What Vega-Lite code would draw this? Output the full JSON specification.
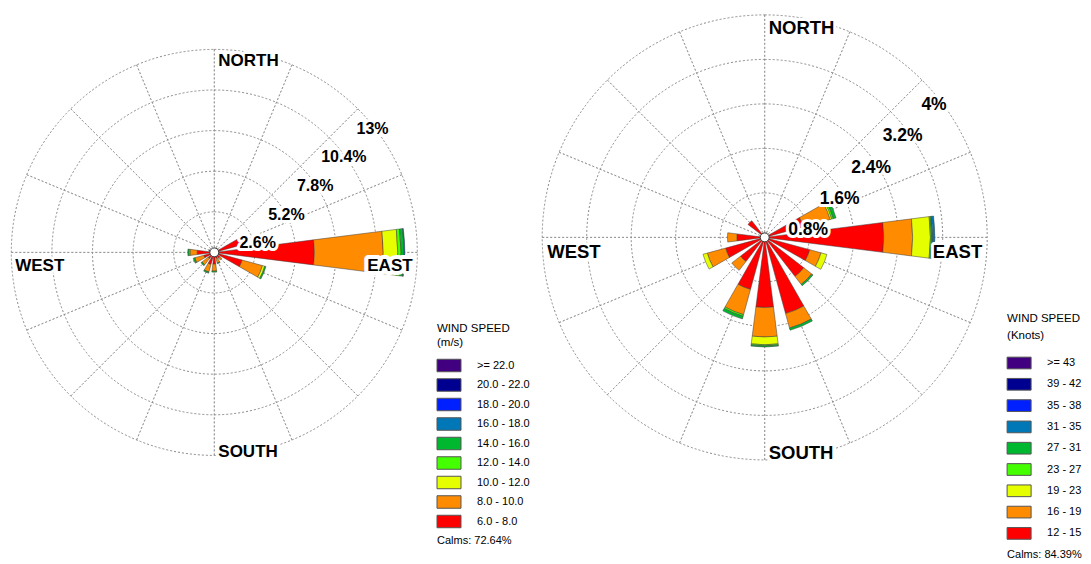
{
  "$schema": "https://vega.github.io/schema/vega-lite/v6.json",
  "padding": 0,
  "bounds": "flush",
  "spacing": 110.7,
  "background": "white",
  "config": {"view": {"stroke": null}, "font": "Liberation Sans"},
  "resolve": {
    "scale": {"color": "independent", "theta": "independent", "radius": "independent"},
    "legend": {"color": "independent"}
  },
  "hconcat": [
    {
      "width": 428.6,
      "height": 504.8,
      "layer": [
        {
          "data": {"values": [{"ring": 2.6}, {"ring": 5.2}, {"ring": 7.8}, {"ring": 10.4}, {"ring": 13}]},
          "mark": {"type": "arc", "filled": false, "stroke": "#8a8a8a", "strokeWidth": 1, "strokeDash": [2, 2]},
          "encoding": {
            "theta": {"datum": 0, "type": "quantitative", "scale": {"type": "linear", "domain": [0, 360], "range": [0, 6.283185307179586], "zero": false, "nice": false}},
            "theta2": {"datum": 360},
            "radius": {"field": "ring", "type": "quantitative", "stack": null, "scale": {"type": "linear", "domain": [0, 13], "range": [0, 203], "nice": false}}
          }
        },
        {
          "data": {"values": [{"dir": 0}, {"dir": 22.5}, {"dir": 45}, {"dir": 67.5}, {"dir": 90}, {"dir": 112.5}, {"dir": 135}, {"dir": 157.5}, {"dir": 180}, {"dir": 202.5}, {"dir": 225}, {"dir": 247.5}, {"dir": 270}, {"dir": 292.5}, {"dir": 315}, {"dir": 337.5}]},
          "mark": {"type": "arc", "filled": false, "stroke": "#8a8a8a", "strokeOpacity": 0.7, "strokeWidth": 1, "strokeDash": [2, 2]},
          "encoding": {
            "theta": {"field": "dir", "type": "quantitative", "stack": null, "scale": {"type": "linear", "domain": [0, 360], "range": [0, 6.283185307179586], "zero": false, "nice": false}},
            "theta2": {"field": "dir"},
            "radius": {"datum": 13, "type": "quantitative", "scale": {"type": "linear", "domain": [0, 13], "range": [0, 203], "nice": false}}
          }
        },
        {
          "data": {"values": [
            {"dir": 90, "bin": "6.0 - 8.0", "lo": 6, "pct": 6.41},
            {"dir": 90, "bin": "8.0 - 10.0", "lo": 8, "pct": 4.41},
            {"dir": 90, "bin": "10.0 - 12.0", "lo": 10, "pct": 0.93},
            {"dir": 90, "bin": "12.0 - 14.0", "lo": 12, "pct": 0.21},
            {"dir": 90, "bin": "14.0 - 16.0", "lo": 14, "pct": 0.19},
            {"dir": 90, "bin": "16.0 - 18.0", "lo": 16, "pct": 0.05},
            {"dir": 67.5, "bin": "6.0 - 8.0", "lo": 6, "pct": 2.05},
            {"dir": 45, "bin": "6.0 - 8.0", "lo": 6, "pct": 0.3},
            {"dir": 112.5, "bin": "6.0 - 8.0", "lo": 6, "pct": 1.85},
            {"dir": 112.5, "bin": "8.0 - 10.0", "lo": 8, "pct": 1.35},
            {"dir": 112.5, "bin": "10.0 - 12.0", "lo": 10, "pct": 0.15},
            {"dir": 112.5, "bin": "14.0 - 16.0", "lo": 14, "pct": 0.08},
            {"dir": 135, "bin": "6.0 - 8.0", "lo": 6, "pct": 0.45},
            {"dir": 135, "bin": "8.0 - 10.0", "lo": 8, "pct": 0.15},
            {"dir": 157.5, "bin": "6.0 - 8.0", "lo": 6, "pct": 0.4},
            {"dir": 157.5, "bin": "8.0 - 10.0", "lo": 8, "pct": 0.3},
            {"dir": 157.5, "bin": "14.0 - 16.0", "lo": 14, "pct": 0.05},
            {"dir": 180, "bin": "6.0 - 8.0", "lo": 6, "pct": 0.75},
            {"dir": 180, "bin": "8.0 - 10.0", "lo": 8, "pct": 0.45},
            {"dir": 180, "bin": "14.0 - 16.0", "lo": 14, "pct": 0.07},
            {"dir": 202.5, "bin": "6.0 - 8.0", "lo": 6, "pct": 0.8},
            {"dir": 202.5, "bin": "8.0 - 10.0", "lo": 8, "pct": 0.5},
            {"dir": 202.5, "bin": "14.0 - 16.0", "lo": 14, "pct": 0.08},
            {"dir": 225, "bin": "6.0 - 8.0", "lo": 6, "pct": 0.5},
            {"dir": 225, "bin": "8.0 - 10.0", "lo": 8, "pct": 0.5},
            {"dir": 225, "bin": "14.0 - 16.0", "lo": 14, "pct": 0.08},
            {"dir": 247.5, "bin": "6.0 - 8.0", "lo": 6, "pct": 0.7},
            {"dir": 247.5, "bin": "8.0 - 10.0", "lo": 8, "pct": 0.6},
            {"dir": 247.5, "bin": "14.0 - 16.0", "lo": 14, "pct": 0.1},
            {"dir": 270, "bin": "6.0 - 8.0", "lo": 6, "pct": 1.1},
            {"dir": 270, "bin": "8.0 - 10.0", "lo": 8, "pct": 0.45},
            {"dir": 270, "bin": "10.0 - 12.0", "lo": 10, "pct": 0.07},
            {"dir": 270, "bin": "14.0 - 16.0", "lo": 14, "pct": 0.08},
            {"dir": 292.5, "bin": "6.0 - 8.0", "lo": 6, "pct": 0.35}
          ]},
          "transform": [{"stack": "pct", "groupby": ["dir"], "sort": [{"field": "lo", "order": "ascending"}], "as": ["r0", "r1"]}],
          "mark": {"type": "arc", "thetaOffset": -0.1257, "theta2Offset": 0.1257, "stroke": "#3c3c3c", "strokeWidth": 0.5},
          "encoding": {
            "theta": {"field": "dir", "type": "quantitative", "stack": null, "scale": {"type": "linear", "domain": [0, 360], "range": [0, 6.283185307179586], "zero": false, "nice": false}},
            "theta2": {"field": "dir"},
            "radius": {"field": "r1", "type": "quantitative", "stack": null, "scale": {"type": "linear", "domain": [0, 13], "range": [0, 203], "nice": false}},
            "radius2": {"field": "r0"},
            "color": {
              "field": "bin",
              "type": "nominal",
              "scale": {
                "domain": [">= 22.0", "20.0 - 22.0", "18.0 - 20.0", "16.0 - 18.0", "14.0 - 16.0", "12.0 - 14.0", "10.0 - 12.0", "8.0 - 10.0", "6.0 - 8.0", "Calms: 72.64%"],
                "range": ["#400080", "#000090", "#0020ff", "#0078b8", "#00b830", "#44ff00", "#e6ff00", "#ff8c00", "#ff0000", "#ffffff"]
              },
              "legend": {
                "orient": "none",
                "legendX": 437,
                "legendY": 323,
                "direction": "vertical",
                "title": ["WIND SPEED", "(m/s)"],
                "titleFont": "Liberation Sans",
                "titleFontSize": 11.5,
                "titleFontWeight": "normal",
                "titleColor": "black",
                "titleLineHeight": 14,
                "titlePadding": 10,
                "labelFont": "Liberation Sans",
                "labelFontSize": 11,
                "labelColor": "black",
                "labelOffset": 21,
                "symbolType": "M-1.846,-0.96H1.846V0.96H-1.846Z",
                "symbolSize": 169,
                "symbolOffset": 5,
                "symbolStrokeWidth": 1,
                "symbolStrokeColor": "#555555",
                "symbolOpacity": 1,
                "rowPadding": 1.5,
                "padding": 0,
                "encode": {
                  "symbols": {"update": {"stroke": {"signal": "datum.value === 'Calms: 72.64%' ? 'transparent' : '#555555'"}}},
                  "labels": {"update": {"dx": {"signal": "datum.value === 'Calms: 72.64%' ? -40 : 0"}}}
                }
              }
            }
          }
        },
        {
          "data": {"values": [{"calm": 72.64}]},
          "mark": {"type": "point", "filled": true, "fill": "white", "stroke": "#333333", "strokeWidth": 1, "size": 80, "opacity": 1},
          "encoding": {}
        },
        {
          "data": {"values": [{"ring": 2.6, "label": "2.6%"}, {"ring": 5.2, "label": "5.2%"}, {"ring": 7.8, "label": "7.8%"}, {"ring": 10.4, "label": "10.4%"}, {"ring": 13, "label": "13%"}]},
          "encoding": {
            "theta": {"datum": 45, "type": "quantitative", "scale": {"type": "linear", "domain": [0, 360], "range": [0, 6.283185307179586], "zero": false, "nice": false}},
            "radius": {"field": "ring", "type": "quantitative", "stack": null, "scale": {"type": "linear", "domain": [0, 13], "range": [0, 203], "nice": false}},
            "text": {"field": "label"}
          },
          "layer": [
            {"mark": {"type": "text", "dx": 14.7, "dy": 19.7, "fontSize": 16, "fontWeight": "bold", "font": "Liberation Sans", "fill": "white", "stroke": "white", "strokeWidth": 6, "strokeJoin": "round"}},
            {"mark": {"type": "text", "dx": 14.7, "dy": 19.7, "fontSize": 16, "fontWeight": "bold", "font": "Liberation Sans", "fill": "black"}}
          ]
        },
        {
          "data": {"values": [{"dir": 0, "label": "NORTH"}, {"dir": 180, "label": "SOUTH"}]},
          "encoding": {
            "theta": {"field": "dir", "type": "quantitative", "stack": null, "scale": {"type": "linear", "domain": [0, 360], "range": [0, 6.283185307179586], "zero": false, "nice": false}},
            "radius": {"datum": 12.5, "type": "quantitative", "scale": {"type": "linear", "domain": [0, 13], "range": [0, 203], "nice": false}},
            "text": {"field": "label"}
          },
          "layer": [
            {"mark": {"type": "text", "align": "left", "baseline": "middle", "dx": 4, "dy": 4, "fontSize": 17, "fontWeight": "bold", "font": "Liberation Sans", "fill": "white", "stroke": "white", "strokeWidth": 6, "strokeJoin": "round"}},
            {"mark": {"type": "text", "align": "left", "baseline": "middle", "dx": 4, "dy": 4, "fontSize": 17, "fontWeight": "bold", "font": "Liberation Sans", "fill": "black"}}
          ]
        },
        {
          "data": {"values": [{"dir": 270, "label": "WEST"}]},
          "encoding": {
            "theta": {"field": "dir", "type": "quantitative", "stack": null, "scale": {"type": "linear", "domain": [0, 360], "range": [0, 6.283185307179586], "zero": false, "nice": false}},
            "radius": {"datum": 12.75, "type": "quantitative", "scale": {"type": "linear", "domain": [0, 13], "range": [0, 203], "nice": false}},
            "text": {"field": "label"}
          },
          "layer": [
            {"mark": {"type": "text", "align": "left", "baseline": "middle", "dy": 14, "fontSize": 17, "fontWeight": "bold", "font": "Liberation Sans", "fill": "white", "stroke": "white", "strokeWidth": 6, "strokeJoin": "round"}},
            {"mark": {"type": "text", "align": "left", "baseline": "middle", "dy": 14, "fontSize": 17, "fontWeight": "bold", "font": "Liberation Sans", "fill": "black"}}
          ]
        },
        {
          "data": {"values": [{"dir": 90, "label": "EAST"}]},
          "encoding": {
            "theta": {"field": "dir", "type": "quantitative", "stack": null, "scale": {"type": "linear", "domain": [0, 360], "range": [0, 6.283185307179586], "zero": false, "nice": false}},
            "radius": {"datum": 12.7, "type": "quantitative", "scale": {"type": "linear", "domain": [0, 13], "range": [0, 203], "nice": false}},
            "text": {"field": "label"}
          },
          "layer": [
            {"mark": {"type": "text", "align": "right", "baseline": "middle", "dy": 14, "fontSize": 17, "fontWeight": "bold", "font": "Liberation Sans", "fill": "white", "stroke": "white", "strokeWidth": 8, "strokeJoin": "round"}},
            {"mark": {"type": "text", "align": "right", "baseline": "middle", "dy": 14, "fontSize": 17, "fontWeight": "bold", "font": "Liberation Sans", "fill": "black"}}
          ]
        }
      ]
    },
    {
      "width": 450,
      "height": 474.8,
      "layer": [
        {
          "data": {"values": [{"ring": 0.8}, {"ring": 1.6}, {"ring": 2.4}, {"ring": 3.2}, {"ring": 4}]},
          "mark": {"type": "arc", "filled": false, "stroke": "#8a8a8a", "strokeWidth": 1, "strokeDash": [2, 2]},
          "encoding": {
            "theta": {"datum": 0, "type": "quantitative", "scale": {"type": "linear", "domain": [0, 360], "range": [0, 6.283185307179586], "zero": false, "nice": false}},
            "theta2": {"datum": 360},
            "radius": {"field": "ring", "type": "quantitative", "stack": null, "scale": {"type": "linear", "domain": [0, 4], "range": [0, 222.5], "nice": false}}
          }
        },
        {
          "data": {"values": [{"dir": 0}, {"dir": 22.5}, {"dir": 45}, {"dir": 67.5}, {"dir": 90}, {"dir": 112.5}, {"dir": 135}, {"dir": 157.5}, {"dir": 180}, {"dir": 202.5}, {"dir": 225}, {"dir": 247.5}, {"dir": 270}, {"dir": 292.5}, {"dir": 315}, {"dir": 337.5}]},
          "mark": {"type": "arc", "filled": false, "stroke": "#8a8a8a", "strokeOpacity": 0.7, "strokeWidth": 1, "strokeDash": [1.9955, 1.9955]},
          "encoding": {
            "theta": {"field": "dir", "type": "quantitative", "stack": null, "scale": {"type": "linear", "domain": [0, 360], "range": [0, 6.283185307179586], "zero": false, "nice": false}},
            "theta2": {"field": "dir"},
            "radius": {"datum": 4, "type": "quantitative", "scale": {"type": "linear", "domain": [0, 4], "range": [0, 222.5], "nice": false}}
          }
        },
        {
          "data": {"values": [
            {"dir": 90, "bin": "12 - 15", "lo": 12, "pct": 2.14},
            {"dir": 90, "bin": "16 - 19", "lo": 16, "pct": 0.52},
            {"dir": 90, "bin": "19 - 23", "lo": 19, "pct": 0.32},
            {"dir": 90, "bin": "23 - 27", "lo": 23, "pct": 0.02},
            {"dir": 90, "bin": "27 - 31", "lo": 27, "pct": 0.02},
            {"dir": 90, "bin": "31 - 35", "lo": 31, "pct": 0.04},
            {"dir": 67.5, "bin": "12 - 15", "lo": 12, "pct": 0.72},
            {"dir": 67.5, "bin": "16 - 19", "lo": 16, "pct": 0.5},
            {"dir": 67.5, "bin": "19 - 23", "lo": 19, "pct": 0.03},
            {"dir": 67.5, "bin": "23 - 27", "lo": 23, "pct": 0.03},
            {"dir": 67.5, "bin": "27 - 31", "lo": 27, "pct": 0.05},
            {"dir": 22.5, "bin": "12 - 15", "lo": 12, "pct": 0.08},
            {"dir": 0, "bin": "12 - 15", "lo": 12, "pct": 0.05},
            {"dir": 0, "bin": "16 - 19", "lo": 16, "pct": 0.03},
            {"dir": 315, "bin": "12 - 15", "lo": 12, "pct": 0.38},
            {"dir": 270, "bin": "12 - 15", "lo": 12, "pct": 0.5},
            {"dir": 270, "bin": "16 - 19", "lo": 16, "pct": 0.17},
            {"dir": 247.5, "bin": "12 - 15", "lo": 12, "pct": 0.73},
            {"dir": 247.5, "bin": "16 - 19", "lo": 16, "pct": 0.34},
            {"dir": 247.5, "bin": "19 - 23", "lo": 19, "pct": 0.08},
            {"dir": 225, "bin": "12 - 15", "lo": 12, "pct": 0.55},
            {"dir": 225, "bin": "16 - 19", "lo": 16, "pct": 0.2},
            {"dir": 202.5, "bin": "12 - 15", "lo": 12, "pct": 0.97},
            {"dir": 202.5, "bin": "16 - 19", "lo": 16, "pct": 0.47},
            {"dir": 202.5, "bin": "23 - 27", "lo": 23, "pct": 0.03},
            {"dir": 202.5, "bin": "27 - 31", "lo": 27, "pct": 0.05},
            {"dir": 180, "bin": "12 - 15", "lo": 12, "pct": 1.26},
            {"dir": 180, "bin": "16 - 19", "lo": 16, "pct": 0.53},
            {"dir": 180, "bin": "19 - 23", "lo": 19, "pct": 0.14},
            {"dir": 180, "bin": "23 - 27", "lo": 23, "pct": 0.02},
            {"dir": 180, "bin": "27 - 31", "lo": 27, "pct": 0.02},
            {"dir": 157.5, "bin": "12 - 15", "lo": 12, "pct": 1.42},
            {"dir": 157.5, "bin": "16 - 19", "lo": 16, "pct": 0.27},
            {"dir": 157.5, "bin": "27 - 31", "lo": 27, "pct": 0.04},
            {"dir": 135, "bin": "12 - 15", "lo": 12, "pct": 0.89},
            {"dir": 135, "bin": "16 - 19", "lo": 16, "pct": 0.18},
            {"dir": 135, "bin": "27 - 31", "lo": 27, "pct": 0.03},
            {"dir": 112.5, "bin": "12 - 15", "lo": 12, "pct": 0.84},
            {"dir": 112.5, "bin": "16 - 19", "lo": 16, "pct": 0.21},
            {"dir": 112.5, "bin": "19 - 23", "lo": 19, "pct": 0.11}
          ]},
          "transform": [{"stack": "pct", "groupby": ["dir"], "sort": [{"field": "lo", "order": "ascending"}], "as": ["r0", "r1"]}],
          "mark": {"type": "arc", "thetaOffset": -0.1257, "theta2Offset": 0.1257, "stroke": "#3c3c3c", "strokeWidth": 0.5},
          "encoding": {
            "theta": {"field": "dir", "type": "quantitative", "stack": null, "scale": {"type": "linear", "domain": [0, 360], "range": [0, 6.283185307179586], "zero": false, "nice": false}},
            "theta2": {"field": "dir"},
            "radius": {"field": "r1", "type": "quantitative", "stack": null, "scale": {"type": "linear", "domain": [0, 4], "range": [0, 222.5], "nice": false}},
            "radius2": {"field": "r0"},
            "color": {
              "field": "bin",
              "type": "nominal",
              "scale": {
                "domain": [">= 43", "39 - 42", "35 - 38", "31 - 35", "27 - 31", "23 - 27", "19 - 23", "16 - 19", "12 - 15", "Calms: 84.39%"],
                "range": ["#400080", "#000090", "#0020ff", "#0078b8", "#00b830", "#44ff00", "#e6ff00", "#ff8c00", "#ff0000", "#ffffff"]
              },
              "legend": {
                "orient": "none",
                "legendX": 467.4,
                "legendY": 312.5,
                "direction": "vertical",
                "title": ["WIND SPEED", "(Knots)"],
                "titleFont": "Liberation Sans",
                "titleFontSize": 11.5,
                "titleFontWeight": "normal",
                "titleColor": "black",
                "titleLineHeight": 17.5,
                "titlePadding": 14.5,
                "labelFont": "Liberation Sans",
                "labelFontSize": 11,
                "labelColor": "black",
                "labelOffset": 21,
                "symbolType": "M-1.846,-0.9H1.846V0.9H-1.846Z",
                "symbolSize": 169,
                "symbolOffset": 5,
                "symbolStrokeWidth": 1,
                "symbolStrokeColor": "#555555",
                "symbolOpacity": 1,
                "rowPadding": 5.3,
                "padding": 0,
                "encode": {
                  "symbols": {"update": {"stroke": {"signal": "datum.value === 'Calms: 84.39%' ? 'transparent' : '#555555'"}}},
                  "labels": {"update": {"dx": {"signal": "datum.value === 'Calms: 84.39%' ? -40 : 0"}}}
                }
              }
            }
          }
        },
        {
          "data": {"values": [{"calm": 84.39}]},
          "mark": {"type": "point", "filled": true, "fill": "white", "stroke": "#333333", "strokeWidth": 1, "size": 80, "opacity": 1},
          "encoding": {}
        },
        {
          "data": {"values": [{"ring": 0.8, "label": "0.8%"}, {"ring": 1.6, "label": "1.6%"}, {"ring": 2.4, "label": "2.4%"}, {"ring": 3.2, "label": "3.2%"}, {"ring": 4, "label": "4%"}]},
          "encoding": {
            "theta": {"datum": 45, "type": "quantitative", "scale": {"type": "linear", "domain": [0, 360], "range": [0, 6.283185307179586], "zero": false, "nice": false}},
            "radius": {"field": "ring", "type": "quantitative", "stack": null, "scale": {"type": "linear", "domain": [0, 4], "range": [0, 222.5], "nice": false}},
            "text": {"field": "label"}
          },
          "layer": [
            {"mark": {"type": "text", "dx": 12, "dy": 24.5, "fontSize": 17.5, "fontWeight": "bold", "font": "Liberation Sans", "fill": "white", "stroke": "white", "strokeWidth": 6, "strokeJoin": "round"}},
            {"mark": {"type": "text", "dx": 12, "dy": 24.5, "fontSize": 17.5, "fontWeight": "bold", "font": "Liberation Sans", "fill": "black"}}
          ]
        },
        {
          "data": {"values": [{"dir": 0, "label": "NORTH"}, {"dir": 180, "label": "SOUTH"}]},
          "encoding": {
            "theta": {"field": "dir", "type": "quantitative", "stack": null, "scale": {"type": "linear", "domain": [0, 360], "range": [0, 6.283185307179586], "zero": false, "nice": false}},
            "radius": {"datum": 3.82, "type": "quantitative", "scale": {"type": "linear", "domain": [0, 4], "range": [0, 222.5], "nice": false}},
            "text": {"field": "label"}
          },
          "layer": [
            {"mark": {"type": "text", "align": "left", "baseline": "middle", "dx": 4, "dy": 3.5, "fontSize": 18.5, "fontWeight": "bold", "font": "Liberation Sans", "fill": "white", "stroke": "white", "strokeWidth": 6, "strokeJoin": "round"}},
            {"mark": {"type": "text", "align": "left", "baseline": "middle", "dx": 4, "dy": 3.5, "fontSize": 18.5, "fontWeight": "bold", "font": "Liberation Sans", "fill": "black"}}
          ]
        },
        {
          "data": {"values": [{"dir": 270, "label": "WEST"}]},
          "encoding": {
            "theta": {"field": "dir", "type": "quantitative", "stack": null, "scale": {"type": "linear", "domain": [0, 360], "range": [0, 6.283185307179586], "zero": false, "nice": false}},
            "radius": {"datum": 3.91, "type": "quantitative", "scale": {"type": "linear", "domain": [0, 4], "range": [0, 222.5], "nice": false}},
            "text": {"field": "label"}
          },
          "layer": [
            {"mark": {"type": "text", "align": "left", "baseline": "middle", "dy": 14.3, "fontSize": 18.5, "fontWeight": "bold", "font": "Liberation Sans", "fill": "white", "stroke": "white", "strokeWidth": 6, "strokeJoin": "round"}},
            {"mark": {"type": "text", "align": "left", "baseline": "middle", "dy": 14.3, "fontSize": 18.5, "fontWeight": "bold", "font": "Liberation Sans", "fill": "black"}}
          ]
        },
        {
          "data": {"values": [{"dir": 90, "label": "EAST"}]},
          "encoding": {
            "theta": {"field": "dir", "type": "quantitative", "stack": null, "scale": {"type": "linear", "domain": [0, 360], "range": [0, 6.283185307179586], "zero": false, "nice": false}},
            "radius": {"datum": 3.91, "type": "quantitative", "scale": {"type": "linear", "domain": [0, 4], "range": [0, 222.5], "nice": false}},
            "text": {"field": "label"}
          },
          "layer": [
            {"mark": {"type": "text", "align": "right", "baseline": "middle", "dy": 14.3, "fontSize": 18.5, "fontWeight": "bold", "font": "Liberation Sans", "fill": "white", "stroke": "white", "strokeWidth": 6, "strokeJoin": "round"}},
            {"mark": {"type": "text", "align": "right", "baseline": "middle", "dy": 14.3, "fontSize": 18.5, "fontWeight": "bold", "font": "Liberation Sans", "fill": "black"}}
          ]
        }
      ]
    }
  ]
}
